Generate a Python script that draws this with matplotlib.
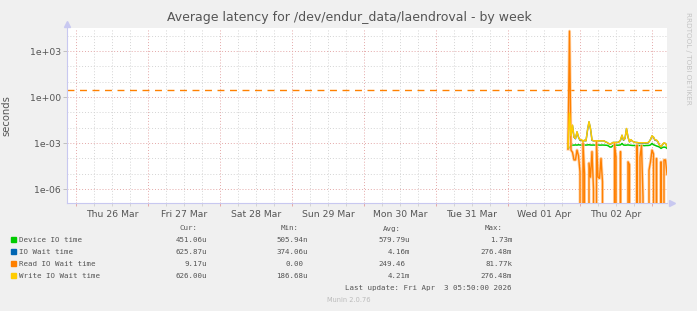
import matplotlib
matplotlib.use('Agg')
import matplotlib.pyplot as plt
import matplotlib.dates as mdates
from matplotlib import patches
from matplotlib.ticker import FixedLocator, FuncFormatter, LogLocator, NullFormatter
import pandas as pd

W, H = 697, 311

title = "Average latency for /dev/endur_data/laendroval - by week"
series_names = ["Device IO time", "IO Wait time", "Read IO Wait time", "Write IO Wait time"]
series_colors = ["#00CC00", "#0066B3", "#FF8000", "#FFCC00"]
cur_vals = ["451.06u", "625.87u", "9.17u", "626.00u"]
min_vals = ["505.94n", "374.06u", "0.00", "186.68u"]
avg_vals = ["579.79u", "4.16m", "249.46", "4.21m"]
max_vals = ["1.73m", "276.48m", "81.77k", "276.48m"]
last_update = "Last update: Fri Apr  3 05:50:00 2026"
warn_level = 3.0

# 30 minute samples, Apr 1 20:00 .. Apr 3 05:00
times = pd.date_range("2026-04-01 20:00", periods=67, freq="30min")

device = [4.5e-4, 5.0e-4, 6.8e-4, 7.4e-4, 7.4e-4, 7.6e-4, 7.4e-4, 7.8e-4, 7.5e-4, 7.4e-4,
          7.6e-4, 7.5e-4, 7.4e-4, 7.6e-4, 7.8e-4, 7.5e-4, 7.4e-4, 7.5e-4, 7.4e-4, 7.6e-4,
          7.5e-4, 7.4e-4, 7.4e-4, 7.5e-4, 7.4e-4, 7.3e-4, 7.2e-4, 6.5e-4, 5.5e-4, 5.6e-4,
          7.0e-4, 7.2e-4, 7.3e-4, 7.3e-4, 7.4e-4, 7.6e-4, 9.5e-4, 7.5e-4, 7.3e-4, 7.4e-4,
          7.6e-4, 7.4e-4, 7.2e-4, 7.0e-4, 7.0e-4, 6.8e-4, 7.0e-4, 7.0e-4, 6.9e-4, 7.0e-4,
          7.0e-4, 6.8e-4, 7.0e-4, 7.0e-4, 7.1e-4, 7.6e-4, 9.5e-4, 7.8e-4, 7.2e-4, 6.5e-4,
          6.0e-4, 5.5e-4, 4.5e-4, 5.2e-4, 5.5e-4, 5.3e-4, 4.51e-4]

iowait = [5.0e-4, 8.5e-2, 2.9e-3, 1.4e-2, 2.4e-3, 1.9e-3, 5.3e-3, 2.4e-3, 1.5e-3, 1.6e-3,
          1.2e-3, 1.5e-3, 1.4e-3, 6.8e-3, 2.4e-2, 8.6e-3, 1.5e-3, 1.4e-3, 1.4e-3, 1.4e-3,
          1.4e-3, 1.4e-3, 1.4e-3, 1.4e-3, 1.4e-3, 1.2e-3, 1.1e-3, 9.3e-4, 8.3e-4, 9.3e-4,
          1.1e-3, 1.1e-3, 1.1e-3, 1.1e-3, 1.2e-3, 1.5e-3, 3.2e-3, 1.5e-3, 2.0e-3, 8.6e-3,
          2.4e-3, 1.2e-3, 1.6e-3, 1.3e-3, 1.2e-3, 1.1e-3, 1.1e-3, 1.0e-3, 1.0e-3, 1.0e-3,
          1.0e-3, 1.0e-3, 1.0e-3, 1.0e-3, 1.2e-3, 1.7e-3, 2.9e-3, 2.4e-3, 1.5e-3, 1.5e-3,
          1.2e-3, 7.2e-4, 5.7e-4, 8.0e-4, 1.0e-3, 9.3e-4, 6.2587e-4]

read = [4.0e-4, 2.0e4, 3.5e-4, 2.5e-4, 8.0e-5, 8.0e-5, 3.5e-4, 1.5e-4, 1.3e-5, 0,
        1.0e-3, 1.0e-5, 0, 0, 5.0e-5, 6.0e-6, 2.8e-4, 1.0e-6, 0, 1.3e-3,
        6.0e-6, 5.0e-6, 1.0e-4, 3.0e-6, 0, 0, 0, 0, 0, 0,
        0, 9.0e-4, 1.2e-4, 0, 0, 2.8e-4, 0, 0, 0, 0,
        6.0e-5, 4.0e-5, 0, 0, 0, 0, 7.4e-4, 0, 1.2e-4, 7.0e-4,
        3.0e-7, 0, 0, 0, 1.7e-5, 6.0e-5, 3.5e-4, 2.0e-4, 0, 1.0e-4,
        0, 0, 6.0e-5, 0, 8.0e-5, 8.0e-5, 9.17e-6]

write = [5.0e-4, 9.0e-2, 3.0e-3, 1.5e-2, 2.5e-3, 2.0e-3, 5.5e-3, 2.5e-3, 1.6e-3, 1.7e-3,
         1.2e-3, 1.6e-3, 1.4e-3, 7.0e-3, 2.5e-2, 9.0e-3, 1.6e-3, 1.4e-3, 1.4e-3, 1.4e-3,
         1.4e-3, 1.4e-3, 1.4e-3, 1.4e-3, 1.4e-3, 1.2e-3, 1.1e-3, 9.5e-4, 8.5e-4, 9.5e-4,
         1.1e-3, 1.1e-3, 1.1e-3, 1.1e-3, 1.2e-3, 1.6e-3, 3.3e-3, 1.6e-3, 2.0e-3, 9.0e-3,
         2.5e-3, 1.2e-3, 1.7e-3, 1.3e-3, 1.2e-3, 1.1e-3, 1.1e-3, 1.05e-3, 1.05e-3, 1.05e-3,
         1.05e-3, 1.05e-3, 1.05e-3, 1.05e-3, 1.2e-3, 1.7e-3, 3.0e-3, 2.5e-3, 1.6e-3, 1.6e-3,
         1.2e-3, 7.4e-4, 5.8e-4, 8.2e-4, 1.05e-3, 9.5e-4, 6.26e-4]

bg = "#F0F0F0"
txt = "#555555"

fig = plt.figure(figsize=(W / 100, H / 100), dpi=100, facecolor=bg)
ax = fig.add_axes([67 / W, 1 - 203 / H, 600 / W, 175 / H])
ax.set_facecolor("white")

ax.plot(times, device, color=series_colors[0], lw=1.1, zorder=3)
ax.plot(times, iowait, color=series_colors[1], lw=1.0, zorder=3)
ax.plot(times, read, color="#FFC48A", lw=2.2, zorder=4, alpha=0.7)
ax.plot(times, read, color=series_colors[2], lw=1.0, zorder=4)
ax.plot(times, write, color=series_colors[3], lw=1.1, zorder=5)
ax.axhline(warn_level, xmax=0.992, color="#FF8000", lw=1.0, dashes=(5, 4), zorder=2)

ax.set_yscale("log")
ax.set_ylim(1.24e-7, 3.2e4)
ax.set_xlim(pd.Timestamp("2026-03-25 21:00"), pd.Timestamp("2026-04-03 05:00"))

ax.yaxis.set_major_locator(FixedLocator([1e-6, 1e-3, 1.0, 1e3]))
ax.yaxis.set_major_formatter(FuncFormatter(lambda v, p: f"{v:.0e}"))
ax.yaxis.set_minor_locator(LogLocator(base=10, subs=(1.0,), numticks=30))
ax.yaxis.set_minor_formatter(NullFormatter())

ax.xaxis.set_major_locator(mdates.DayLocator())
ax.xaxis.set_major_formatter(NullFormatter())
ax.xaxis.set_minor_locator(mdates.HourLocator(byhour=[6, 12, 18]))
ax.xaxis.set_minor_formatter(FuncFormatter(
    lambda v, p: mdates.num2date(v).strftime("%a %d %b") if mdates.num2date(v).hour == 12 else ""))

ax.grid(which="major", color="#E4A8A8", linestyle=(0, (1, 2)), lw=0.7)
ax.grid(which="minor", color="#D4D4D4", linestyle=(0, (1, 2)), lw=0.7)

ax.tick_params(axis="y", which="major", length=3, width=0.7, color="#C0C0C0",
               labelsize=6.7, labelcolor=txt, pad=1.5)
ax.tick_params(axis="y", which="minor", length=0)
ax.tick_params(axis="x", which="major", length=2, width=0.7, color="#E4A8A8")
ax.tick_params(axis="x", which="minor", length=2, width=0.7, color="#D4D4D4",
               labelsize=6.7, labelcolor=txt, pad=3)

for s in ["top", "right"]:
    ax.spines[s].set_visible(False)
for s in ["left", "bottom"]:
    ax.spines[s].set_color("#C8C8F0")
    ax.spines[s].set_linewidth(0.8)

# axis arrow heads
ax.plot(0, 1.025, marker="^", ms=4, color="#C8C8F0", transform=ax.transAxes, clip_on=False)
ax.plot(1.008, 0, marker=">", ms=4, color="#C8C8F0", transform=ax.transAxes, clip_on=False)

ax.set_ylabel("seconds", fontsize=7.2, color=txt)
ax.yaxis.set_label_coords(-56 / 600, 0.5)

fig.text(349 / W, 1 - 18 / H, title, ha="center", va="center", fontsize=9.0, color=txt)
fig.text(688 / W, 1 - 12 / H, "RRDTOOL / TOBI OETIKER", rotation=270, ha="center", va="top",
         fontsize=5.2, color="#C4C4C4")

# legend block
mono = "DejaVu Sans Mono"
lfs = 5.4
cw = 4.49
heads = [("Cur:", 197.3), ("Min:", 299.0), ("Avg:", 401.0), ("Max:", 502.3)]
for h, xr in heads:
    fig.text(xr / W, 1 - 228.5 / H, h, ha="right", va="center", family=mono, fontsize=lfs, color=txt)

cols = [(cur_vals, 206.7), (min_vals, 307.7), (avg_vals, 410.0), (max_vals, 512.3)]
for i, name in enumerate(series_names):
    yy = 239.7 + 12 * i
    fig.add_artist(patches.Rectangle((11 / W, 1 - (yy + 2.5) / H), 4.5 / W, 5 / H,
                                     transform=fig.transFigure, color=series_colors[i]))
    fig.text(19.3 / W, 1 - yy / H, name, ha="left", va="center", family=mono, fontsize=lfs, color=txt)
    for vals, xr in cols:
        v = vals[i]
        x = xr - cw if v[-1].isdigit() else xr
        fig.text(x / W, 1 - yy / H, v, ha="right", va="center", family=mono, fontsize=lfs, color=txt)

fig.text(511.7 / W, 1 - 287.7 / H, last_update, ha="right", va="center", family=mono,
         fontsize=lfs, color=txt)
fig.text(349 / W, 1 - 300.3 / H, "Munin 2.0.76", ha="center", va="center", fontsize=4.8, color="#BBBBBB")

fig.savefig("out.png", dpi=100, facecolor=bg)
